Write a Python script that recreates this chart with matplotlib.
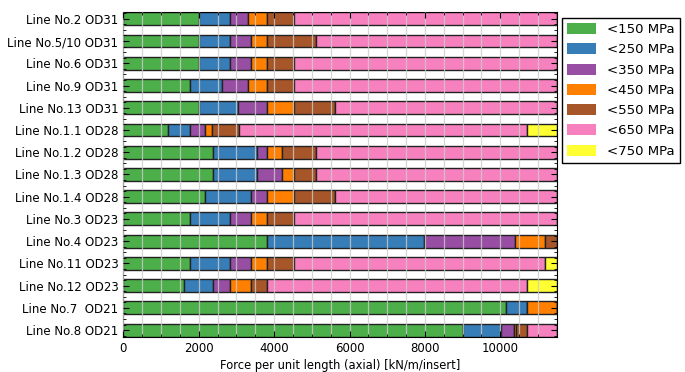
import matplotlib
matplotlib.use("Agg")
import matplotlib.pyplot as plt
from matplotlib.ticker import MultipleLocator
from matplotlib.patches import Patch

lines = ['Line No.2 OD31', 'Line No.5/10 OD31', 'Line No.6 OD31', 'Line No.9 OD31',
         'Line No.13 OD31', 'Line No.1.1 OD28', 'Line No.1.2 OD28', 'Line No.1.3 OD28',
         'Line No.1.4 OD28', 'Line No.3 OD23', 'Line No.4 OD23', 'Line No.11 OD23',
         'Line No.12 OD23', 'Line No.7  OD21', 'Line No.8 OD21']

# upper end of each stress band along the bar [kN/m/insert]
end_150 = [2000, 2000, 2000, 1760, 2000, 1190, 2370, 2370, 2160, 1760, 3800, 1760, 1600, 10150, 9000]
end_250 = [2820, 2820, 2820, 2620, 3040, 1760, 3550, 3550, 3400, 2820, 7970, 2820, 2380, 10720, 10030]
end_350 = [3310, 3400, 3400, 3310, 3800, 2180, 3800, 4210, 3800, 3400, 10400, 3400, 2820, 10720, 10370]
end_450 = [3800, 3800, 3800, 3800, 4520, 2360, 4210, 4520, 4520, 3800, 11190, 3800, 3380, 11500, 10420]
end_550 = [4530, 5100, 4530, 4530, 5620, 3060, 5100, 5100, 5620, 4530, 11500, 4530, 3800, 11500, 10720]
end_650 = [11500, 11500, 11500, 11500, 11500, 10720, 11500, 11500, 11500, 11500, 11500, 11190, 10710, 11500, 11500]
end_750 = [11500] * 15

bands = ['<150 MPa', '<250 MPa', '<350 MPa', '<450 MPa', '<550 MPa', '<650 MPa', '<750 MPa']
colors = ['#4daf4a', '#377eb8', '#984ea3', '#ff7f00', '#a65628', '#f781bf', '#ffff33']
ends = [end_150, end_250, end_350, end_450, end_550, end_650, end_750]

plt.rcParams['font.family'] = 'DejaVu Sans'
fig = plt.figure(figsize=(6.85, 3.72), dpi=100)
ax = fig.add_axes([0.18, 0.094, 0.633, 0.874])

y = list(range(len(lines)))
prev = [0] * len(lines)
for band, col, end in zip(bands, colors, ends):
    widths = [e - p for e, p in zip(end, prev)]
    ax.barh(y, widths, left=prev, height=0.58, color=col, edgecolor='#222222',
            linewidth=1.0, zorder=2)
    prev = end

ax.set_yticks(y)
ax.set_yticklabels(lines, fontsize=8.5)
ax.set_ylim(-0.31, 14.31)
ax.invert_yaxis()
ax.set_xlim(0, 11500)
ax.xaxis.set_major_locator(MultipleLocator(2000))
ax.xaxis.set_minor_locator(MultipleLocator(500))
ax.yaxis.set_minor_locator(MultipleLocator(0.25))
ax.tick_params(axis='both', which='both', direction='in', top=True, right=True)
ax.tick_params(axis='both', which='major', length=4, labelsize=8.5)
ax.tick_params(axis='both', which='minor', length=2)
ax.grid(True, axis='x', which='both', color='#cccccc', alpha=0.8, linewidth=0.9, zorder=3)
ax.set_axisbelow(False)
ax.set_xlabel('Force per unit length (axial) [kN/m/insert]', fontsize=8.3, labelpad=3)

handles = [Patch(facecolor=c, edgecolor='none', label=b) for b, c in zip(bands, colors)]
leg = ax.legend(handles=handles, loc='upper left', bbox_to_anchor=(1.012, 0.982),
                borderaxespad=0, fontsize=9.5, fancybox=False, framealpha=1,
                handlelength=2.2, handleheight=0.9, labelspacing=0.55)
leg.get_frame().set_edgecolor('black')

fig.savefig('out.png', dpi=100)
